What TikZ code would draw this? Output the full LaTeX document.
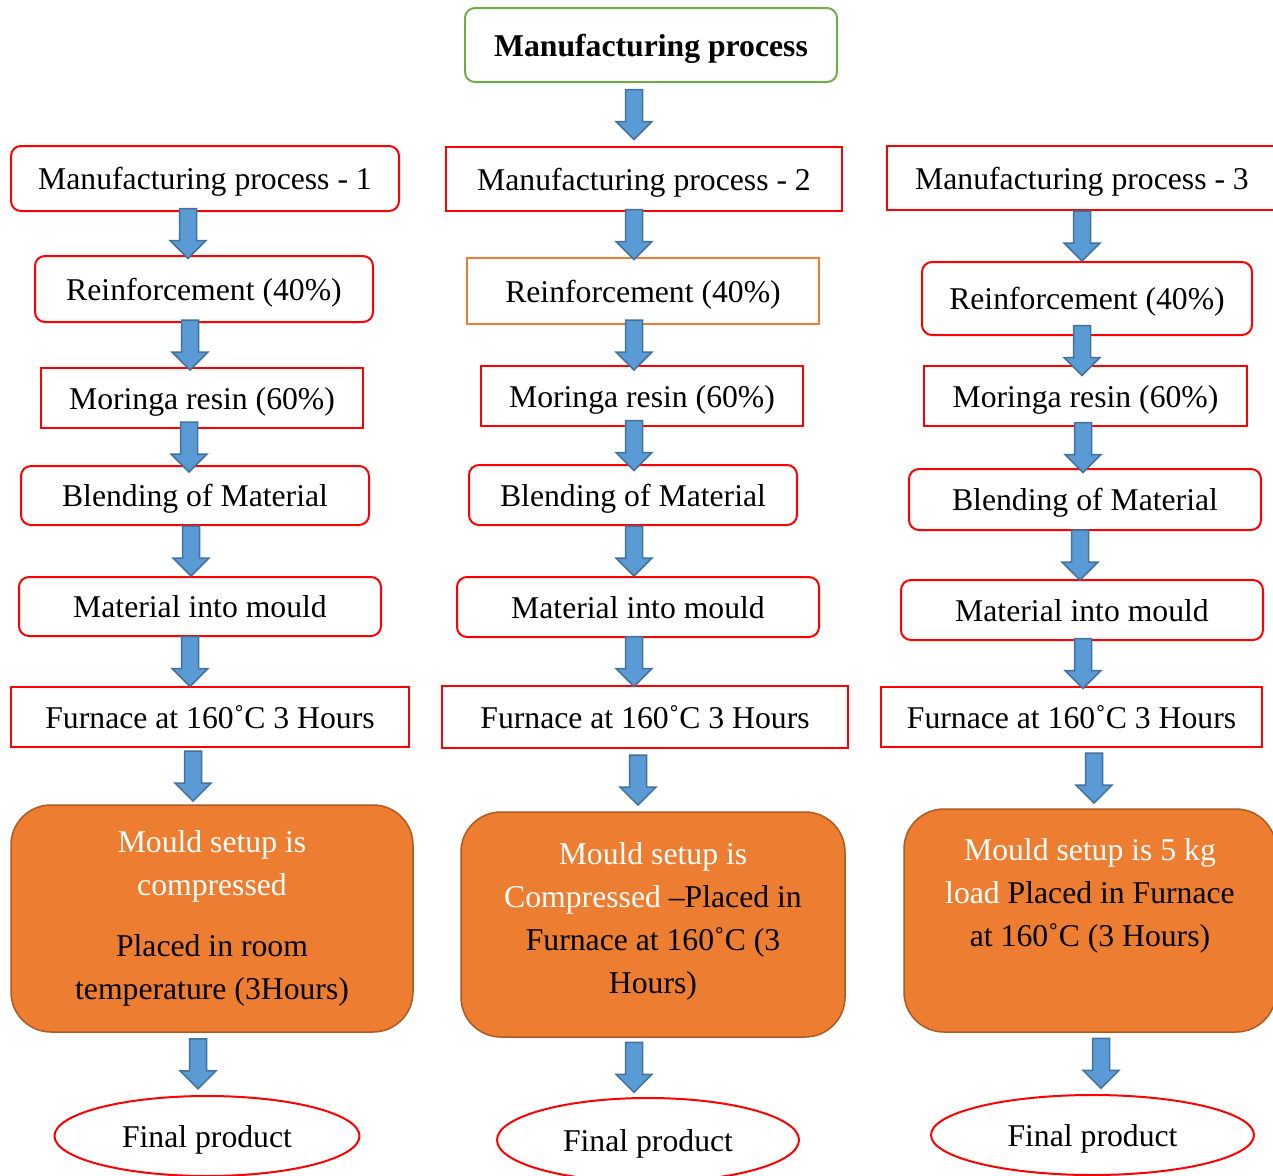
\documentclass[tikz,border=0pt]{standalone}
\usepackage{fontspec}
\setmainfont{Liberation Serif}
\usetikzlibrary{calc,shapes.geometric}
\definecolor{BoxRed}{RGB}{255,0,0}
\definecolor{LeafGreen}{RGB}{112,173,71}
\definecolor{MouldOrange}{RGB}{237,125,49}
\definecolor{MouldEdge}{RGB}{174,90,33}
\definecolor{ArrowBlue}{RGB}{91,155,213}
\definecolor{ArrowEdge}{RGB}{65,113,156}
\tikzset{
  every node/.style={font=\fontsize{31.7}{43}\selectfont,inner sep=0pt},
  oneline/.style={text height=24pt,text depth=2pt},
  headbox/.style={oneline,draw=LeafGreen,line width=2pt,rounded corners=10pt,
    font=\fontsize{31.7}{43}\selectfont\bfseries},
  redbox/.style={oneline,draw=BoxRed,line width=2pt},
  redround/.style={redbox,rounded corners=10pt},
  orangebox/.style={oneline,draw=MouldOrange,line width=2pt},
  mouldbox/.style={fill=MouldOrange,draw=MouldEdge,line width=1.5pt,
    rounded corners=40pt,align=center},
  finalbox/.style={oneline,ellipse,draw=BoxRed,line width=2pt},
  blockarrow/.style={fill=ArrowBlue,draw=ArrowEdge,line width=1.5pt,
    to path={let \p1=(\tikztostart), \p2=(\tikztotarget),
      \p3=($(\p1)!.5!(\p2)$) in
      (\x1-8.5pt,\y3+25pt) -- (\x1+8.5pt,\y3+25pt) -- (\x1+8.5pt,\y3-7pt)
      -- (\x1+18pt,\y3-7pt) -- (\x1,\y3-25pt) -- (\x1-18pt,\y3-7pt)
      -- (\x1-8.5pt,\y3-7pt) -- cycle}}
}

\begin{document}
\begin{tikzpicture}[x=1pt,y=-1pt]
  \useasboundingbox (0,0) rectangle (1273,1175);
  \node[headbox,minimum width=372pt,minimum height=74pt] (top) at (651,45) {Manufacturing process};

  \node[redround,minimum width=388pt,minimum height=65pt] (m1) at (205,178.5) {Manufacturing process - 1};
  \node[redround,minimum width=338pt,minimum height=66pt] (r1) at (204,289) {Reinforcement (40\%)};
  \node[redbox,minimum width=322pt,minimum height=60pt] (g1) at (202,398) {Moringa resin (60\%)};
  \node[redround,minimum width=348pt,minimum height=59pt] (b1) at (195,495.5) {Blending of Material};
  \node[redround,minimum width=362pt,minimum height=59pt] (p1) at (200,606.5) {Material into mould};
  \node[redbox,minimum width=398pt,minimum height=60pt] (f1) at (210,717) {Furnace at 160˚C 3 Hours};
  \node[mouldbox,minimum width=402pt,minimum height=227pt] (o1) at (212,918.5)
    {\textcolor{white}{Mould setup is}\\\textcolor{white}{compressed}\\[18pt]Placed in room\\temperature (3Hours)};
  \node[finalbox,minimum width=305pt,minimum height=80pt] (e1) at (207,1136) {Final product};

  \node[redbox,minimum width=396pt,minimum height=64pt] (m2) at (644,179) {Manufacturing process - 2};
  \node[orangebox,minimum width=352pt,minimum height=66pt] (r2) at (643,291) {Reinforcement (40\%)};
  \node[redbox,minimum width=322pt,minimum height=60pt] (g2) at (642,396) {Moringa resin (60\%)};
  \node[redround,minimum width=328pt,minimum height=60pt] (b2) at (633,495) {Blending of Material};
  \node[redround,minimum width=362pt,minimum height=60pt] (p2) at (638,607) {Material into mould};
  \node[redbox,minimum width=406pt,minimum height=62pt] (f2) at (645,717) {Furnace at 160˚C 3 Hours};
  \node[mouldbox,minimum width=384pt,minimum height=225pt] (o2) at (653,924.5)
    {\textcolor{white}{Mould setup is}\\\textcolor{white}{Compressed} –Placed in\\Furnace at 160˚C (3\\Hours)\\[-30pt]\mbox{}};
  \node[finalbox,minimum width=302pt,minimum height=84pt] (e2) at (648,1140) {Final product};

  \node[redbox,minimum width=390pt,minimum height=64pt] (m3) at (1082,178) {Manufacturing process - 3};
  \node[redround,minimum width=330pt,minimum height=73pt] (r3) at (1087,298.5) {Reinforcement (40\%)};
  \node[redbox,minimum width=323pt,minimum height=60pt] (g3) at (1085.5,396) {Moringa resin (60\%)};
  \node[redround,minimum width=352pt,minimum height=61pt] (b3) at (1085,499.5) {Blending of Material};
  \node[redround,minimum width=362pt,minimum height=60pt] (p3) at (1082,610) {Material into mould};
  \node[redbox,minimum width=381pt,minimum height=60pt] (f3) at (1071.5,717) {Furnace at 160˚C 3 Hours};
  \node[mouldbox,minimum width=372pt,minimum height=223pt] (o3) at (1090,920.5)
    {\textcolor{white}{Mould setup is 5 kg}\\\textcolor{white}{load} Placed in Furnace\\at 160˚C (3 Hours)\\[14pt]\mbox{}};
  \node[finalbox,minimum width=323pt,minimum height=80pt] (e3) at (1092.5,1135) {Final product};

  \draw[blockarrow] ([xshift=-17pt]top.south) to (m2.north);

  \draw[blockarrow] ([xshift=-17pt]m1.south) to (r1.north);
  \draw[blockarrow] ([xshift=-14pt]r1.south) to (g1.north);
  \draw[blockarrow] ([xshift=-13pt]g1.south) to (b1.north);
  \draw[blockarrow] ([xshift=-4pt]b1.south) to (p1.north);
  \draw[blockarrow] ([xshift=-10pt]p1.south) to (f1.north);
  \draw[blockarrow] ([xshift=-17pt]f1.south) to (o1.north);
  \draw[blockarrow] ([xshift=-14pt]o1.south) to (e1.north);

  \draw[blockarrow] ([xshift=-10pt]m2.south) to (r2.north);
  \draw[blockarrow] ([xshift=-9pt]r2.south) to (g2.north);
  \draw[blockarrow] ([xshift=-8pt]g2.south) to (b2.north);
  \draw[blockarrow] ([xshift=1pt]b2.south) to (p2.north);
  \draw[blockarrow] ([xshift=-4pt]p2.south) to (f2.north);
  \draw[blockarrow] ([xshift=-7pt]f2.south) to (o2.north);
  \draw[blockarrow] ([xshift=-19pt]o2.south) to (e2.north);

  \draw[blockarrow] (m3.south) to (r3.north);
  \draw[blockarrow] ([xshift=-5pt]r3.south) to (g3.north);
  \draw[blockarrow] ([xshift=-2.5pt]g3.south) to (b3.north);
  \draw[blockarrow] ([xshift=-5pt]b3.south) to (p3.north);
  \draw[blockarrow] ([xshift=1pt]p3.south) to (f3.north);
  \draw[blockarrow] ([xshift=22.5pt]f3.south) to (o3.north);
  \draw[blockarrow] ([xshift=11pt]o3.south) to (e3.north);
\end{tikzpicture}
\end{document}
